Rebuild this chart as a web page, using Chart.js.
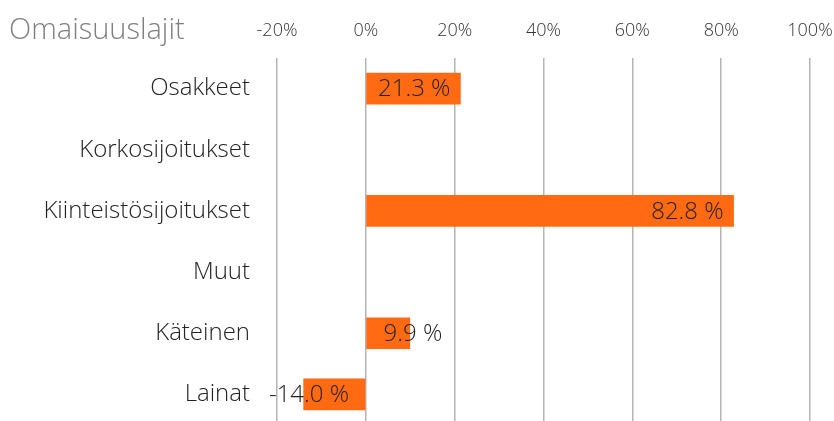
<!DOCTYPE html>
<html>
<head>
<meta charset="utf-8">
<script src="https://cdn.jsdelivr.net/npm/chart.js@4"></script>
<style>
  html, body { margin: 0; padding: 0; background: #fff; overflow: hidden; }
  #wrap { position: relative; width: 834px; height: 421px; overflow: hidden; }
  #title { position: absolute; left: 9px; top: 10px; font-family: "Open Sans", sans-serif; font-weight: 300;
           font-size: 29px; color: #808080; line-height: 36px; }
  canvas { display: block; }
</style>
</head>
<body>
<div id="wrap">
  <canvas id="chart" width="834" height="426" style="width:834px;height:426px"></canvas>
  <div id="title">Omaisuuslajit</div>
</div>
<script>
// Omaisuuslajit - tuotot omaisuuslajeittain
const categories = ["Osakkeet", "Korkosijoitukset", "Kiinteistösijoitukset", "Muut", "Käteinen", "Lainat"];
const returns = [21.3, null, 82.8, null, 9.9, -14.0];
const tickValues = [-20, 0, 20, 40, 60, 80, 100];

const FONT = '"Open Sans", sans-serif';
const ORANGE = '#FF6A13';

// value labels, Excel style: inside end if it fits, otherwise next to the base
const barLabels = {
    id: 'barLabels',
    afterDatasetsDraw(chart) {
        const ctx = chart.ctx;
        const meta = chart.getDatasetMeta(0);
        ctx.save();
        ctx.font = '300 24px ' + FONT;
        ctx.fillStyle = '#222';
        ctx.textBaseline = 'middle';
        meta.data.forEach((bar, i) => {
            const v = returns[i];
            if (v === null || v === undefined) return;
            const txt = v.toFixed(1) + ' %';
            const w = ctx.measureText(txt).width;
            const len = Math.abs(bar.x - bar.base);
            const y = bar.y + 1;
            if (v >= 0) {
                if (w + 14 < len) {
                    ctx.textAlign = 'right';
                    ctx.fillText(txt, bar.x - 10, y);
                } else {
                    ctx.textAlign = 'left';
                    ctx.fillText(txt, bar.base + 17, y);
                }
            } else {
                if (w + 14 < len) {
                    ctx.textAlign = 'left';
                    ctx.fillText(txt, bar.x + 10, y);
                } else {
                    ctx.textAlign = 'right';
                    ctx.fillText(txt, bar.base - 16, y);
                }
            }
        });
        ctx.restore();
    }
};

new Chart(document.getElementById('chart').getContext('2d'), {
    type: 'bar',
    data: {
        labels: categories,
        datasets: [{
            data: returns,
            backgroundColor: ORANGE,
            borderWidth: 0,
            barThickness: 31
        }]
    },
    options: {
        indexAxis: 'y',
        responsive: false,
        animation: false,
        layout: { padding: { left: 0, right: 24, top: 0, bottom: 1 } },
        plugins: {
            legend: { display: false },
            tooltip: { enabled: false },
            title: { display: false }
        },
        scales: {
            x: {
                position: 'top',
                min: -20,
                max: 100,
                afterBuildTicks: (scale) => { scale.ticks = tickValues.map(v => ({ value: v })); },
                afterFit: (scale) => {
                    scale.height = 58;
                    scale.paddingLeft = 0;
                    scale.paddingRight = 0;
                },
                border: { display: false },
                grid: { color: '#b4b4b4', lineWidth: 1.5, drawTicks: false },
                ticks: {
                    padding: 16,
                    color: '#333',
                    font: { family: FONT, size: 18, weight: 300 },
                    callback: (v) => v + '%'
                }
            },
            y: {
                afterFit: (scale) => {
                    scale.width = 277;
                    scale.paddingTop = 0;
                    scale.paddingBottom = 0;
                },
                border: { display: false },
                grid: { display: false, drawTicks: false },
                ticks: {
                    padding: 27,
                    color: '#222',
                    font: { family: FONT, size: 24, weight: 300 }
                }
            }
        }
    },
    plugins: [barLabels]
});
</script>
</body>
</html>
